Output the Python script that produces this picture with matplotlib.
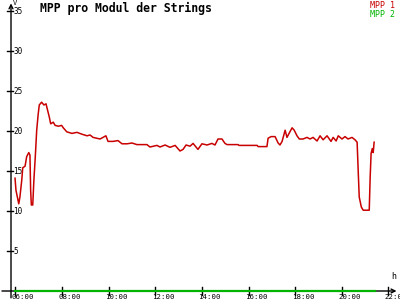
import matplotlib
matplotlib.use("Agg")
import matplotlib.pyplot as plt

# MPP 1 voltage per module, time in decimal hours
t_mpp1 = [5.98, 6.02, 6.08, 6.14, 6.19, 6.27, 6.31, 6.41, 6.48, 6.57, 6.62, 6.65, 6.68,
          6.74, 6.79, 6.85, 6.91, 6.97, 7.02, 7.12, 7.22, 7.31, 7.36, 7.45, 7.51, 7.62,
          7.70, 7.84, 7.98, 8.05, 8.20, 8.31, 8.42, 8.64, 8.85, 9.07, 9.20, 9.33, 9.63,
          9.88, 9.97, 10.18, 10.40, 10.57, 10.79, 11.00, 11.21, 11.43, 11.64, 11.77,
          12.07, 12.20, 12.42, 12.63, 12.85, 13.06, 13.19, 13.32, 13.49, 13.62, 13.83,
          14.00, 14.22, 14.43, 14.56, 14.69, 14.86, 14.99, 15.08, 15.55, 15.59, 16.37,
          16.41, 16.79, 16.84, 16.97, 17.14, 17.27, 17.35, 17.44, 17.57, 17.65, 17.74,
          17.87, 17.96, 18.08, 18.18, 18.34, 18.51, 18.64, 18.77, 18.94, 19.07, 19.20,
          19.37, 19.54, 19.63, 19.76, 19.85, 20.01, 20.14, 20.27, 20.44, 20.57, 20.66,
          20.70, 20.75, 20.84, 20.92, 21.18, 21.22, 21.26, 21.31, 21.35, 21.39]
mpp1 = [14.1, 12.6, 11.75, 10.9, 11.75, 13.9, 15.4, 15.6, 16.8, 17.3, 17.0, 12.6, 10.75,
        10.75, 13.9, 16.8, 20.1, 22.0, 23.25, 23.6, 23.25, 23.4, 22.8, 21.75, 20.9, 21.1,
        20.7, 20.6, 20.7, 20.4, 19.9, 19.8, 19.7, 19.83, 19.6, 19.4, 19.5, 19.2, 19.0,
        19.4, 18.7, 18.7, 18.8, 18.4, 18.4, 18.5, 18.3, 18.3, 18.3, 18.0,
        18.2, 18.0, 18.25, 17.96, 18.2, 17.5, 17.7, 18.25, 18.1, 18.45, 17.7,
        18.4, 18.25, 18.45, 18.25, 19.0, 19.0, 18.45, 18.3, 18.3, 18.2, 18.2,
        18.05, 18.05, 19.1, 19.3, 19.3, 18.5, 18.25, 18.7, 20.1, 19.2, 19.7,
        20.4, 20.1, 19.4, 19.0, 19.0, 19.2, 19.0, 19.2, 18.75, 19.4, 18.9,
        19.4, 18.7, 19.2, 18.75, 19.4, 19.0, 19.3, 19.0, 19.2, 18.9, 18.6,
        15.5, 11.75, 10.5, 10.1, 10.1, 14.25, 17.2, 17.8, 17.3, 18.6]

# MPP 2 stays at zero all day
t_mpp2 = [5.98, 21.43]
mpp2 = [0, 0]

y_ticks = [5, 10, 15, 20, 25, 30, 35]
x_ticks = [6, 8, 10, 12, 14, 16, 18, 20, 22]
x_labels = ["06:00", "08:00", "10:00", "12:00", "14:00", "16:00", "18:00", "20:00", "22:00"]

RED = "#c80000"
GREEN = "#00b400"
MONO = "DejaVu Sans Mono"

fig = plt.figure(figsize=(4, 3), dpi=100)
ax = fig.add_axes([0, 0, 1, 1])
ax.set_xlim(5.335, 22.50)
ax.set_ylim(-1.125, 36.375)
ax.axis("off")

px = 1 / 23.3  # one pixel in hours
x0 = 5.335 + 11 * px  # where the voltage axis sits

# axes with arrows
ax.annotate("", xy=(x0, 36.3), xytext=(x0, -1.2),
            arrowprops=dict(arrowstyle="->", lw=1, color="black", mutation_scale=7))
ax.annotate("", xy=(22.47, 0), xytext=(5.3, 0),
            arrowprops=dict(arrowstyle="->", lw=1, color="black", mutation_scale=7))

for y in y_ticks:
    ax.plot([x0 - 4 * px, x0 + 2 * px], [y, y], color="black", lw=1)
    ax.text(x0 + 2.5 * px, y, str(y), fontsize=5.5, family=MONO, va="center", ha="left")

for x, lab in zip(x_ticks, x_labels):
    ax.plot([x, x], [-0.5, 0.5], color="black", lw=1)
    ax.text(x - 3.5 * px, -1.1, lab, fontsize=5.3, family=MONO, va="bottom", ha="left")

ax.text(x0 + 1.5 * px, 36.4, "V", fontsize=5, family=MONO, va="top", ha="left")
ax.text(22.12, 1.2, "h", fontsize=6, family=MONO, va="bottom", ha="left")

ax.plot(t_mpp2, mpp2, color=GREEN, lw=1.6, zorder=3)
ax.plot(t_mpp1, mpp1, color=RED, lw=1.1, zorder=4)

fig.text(0.1, 0.992, "MPP pro Modul der Strings", fontsize=8.3, family=MONO,
         weight="bold", va="top", ha="left")
fig.text(0.987, 0.995, "MPP 1", fontsize=6, family=MONO, color=RED, va="top", ha="right")
fig.text(0.987, 0.968, "MPP 2", fontsize=6, family=MONO, color=GREEN, va="top", ha="right")

fig.savefig("out.png", dpi=100, facecolor="white")
